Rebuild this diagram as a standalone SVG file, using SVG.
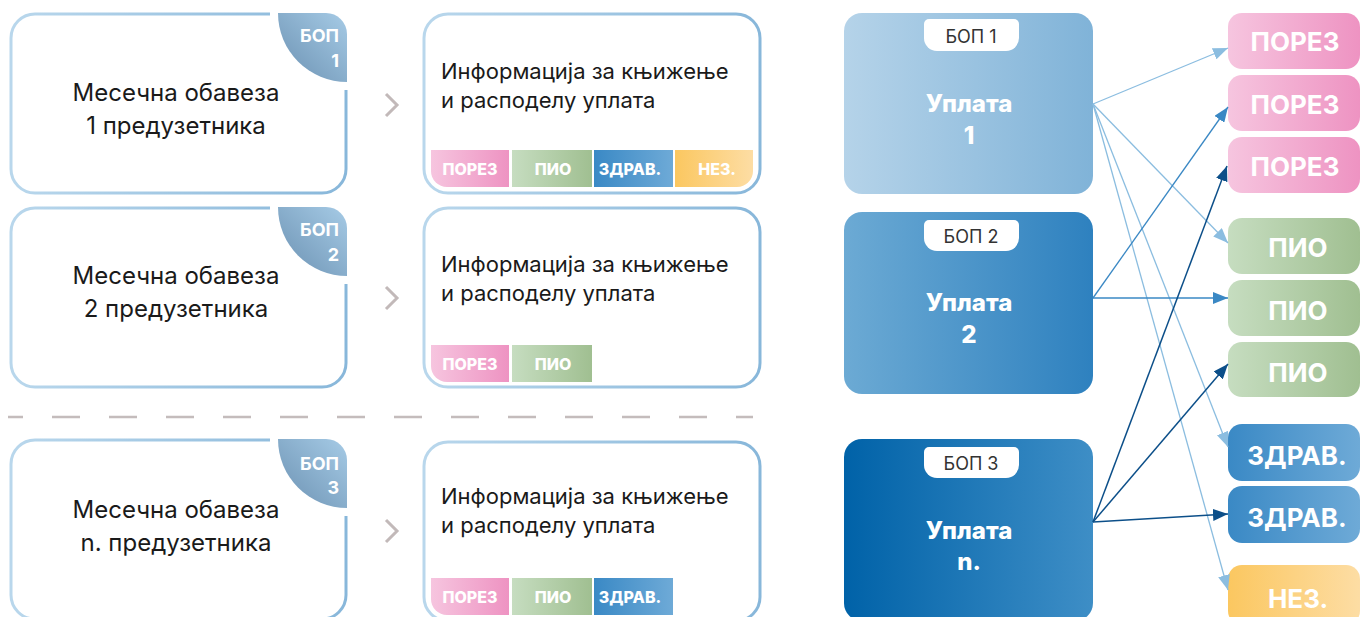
<svg xmlns="http://www.w3.org/2000/svg" width="1360" height="617" viewBox="0 0 1360 617">
<defs>
<linearGradient id="gStroke" x1="0" y1="0" x2="1" y2="0"><stop offset="0" stop-color="#b9d7ec"/><stop offset="1" stop-color="#88b7da"/></linearGradient>
<linearGradient id="gCorner" x1="0" y1="1" x2="1" y2="0"><stop offset="0" stop-color="#6a90b1"/><stop offset="1" stop-color="#a6cbe6"/></linearGradient>
<linearGradient id="gPorez" x1="0" y1="0" x2="1" y2="0"><stop offset="0" stop-color="#f6c5df"/><stop offset="1" stop-color="#ee93c2"/></linearGradient>
<linearGradient id="gPio" x1="0" y1="0" x2="1" y2="0"><stop offset="0" stop-color="#c6ddc0"/><stop offset="1" stop-color="#a0bf91"/></linearGradient>
<linearGradient id="gZdrav" x1="0" y1="0" x2="1" y2="0"><stop offset="0" stop-color="#3a89c5"/><stop offset="1" stop-color="#6eaad7"/></linearGradient>
<linearGradient id="gNez" x1="0" y1="0" x2="1" y2="0"><stop offset="0" stop-color="#fbc760"/><stop offset="1" stop-color="#fddda4"/></linearGradient>
<linearGradient id="gU1" x1="0" y1="0" x2="1" y2="0"><stop offset="0" stop-color="#b5d3e9"/><stop offset="1" stop-color="#80b3d8"/></linearGradient>
<linearGradient id="gU2" x1="0" y1="0" x2="1" y2="0"><stop offset="0" stop-color="#6caad4"/><stop offset="1" stop-color="#2e81bf"/></linearGradient>
<linearGradient id="gU3" x1="0" y1="0" x2="1" y2="0"><stop offset="0" stop-color="#0062a8"/><stop offset="1" stop-color="#3e8ec6"/></linearGradient>
<marker id="aL" markerUnits="userSpaceOnUse" markerWidth="15" markerHeight="12" refX="15" refY="6" orient="auto"><path d="M0,0 L15,6 L0,12 Z" fill="#8bbde0"/></marker>
<marker id="aM" markerUnits="userSpaceOnUse" markerWidth="15" markerHeight="12" refX="15" refY="6" orient="auto"><path d="M0,0 L15,6 L0,12 Z" fill="#3a88c4"/></marker>
<marker id="aD" markerUnits="userSpaceOnUse" markerWidth="15" markerHeight="12" refX="15" refY="6" orient="auto"><path d="M0,0 L15,6 L0,12 Z" fill="#0c4f89"/></marker>
<style>
.box{fill:#fff;stroke:url(#gStroke);stroke-width:3}
.outline{fill:none;stroke:url(#gStroke);stroke-width:3}
.corner{fill:url(#gCorner)}
.ctxt{font-family:Inter,"Noto Sans",sans-serif;font-weight:700;font-size:18px;fill:#fff;text-anchor:end}
.main{font-family:Inter,"Noto Sans",sans-serif;font-size:24px;fill:#1a1a1a;text-anchor:middle}
.info{font-family:Inter,"Noto Sans",sans-serif;font-size:22px;fill:#1a1a1a}
.tag{font-family:Inter,"Noto Sans",sans-serif;font-weight:800;font-size:16px;fill:#fff;text-anchor:middle}
.chev{fill:none;stroke:#c2b9b9;stroke-width:3}
.tab{fill:#fff}
.tabt{font-family:Inter,"Noto Sans",sans-serif;font-size:18px;fill:#333;text-anchor:middle}
.up{font-family:Inter,"Noto Sans",sans-serif;font-weight:800;font-size:24px;fill:#fff;text-anchor:middle}
.rt{font-family:Inter,"Noto Sans",sans-serif;font-weight:700;font-size:26px;fill:#fff;text-anchor:middle}
.cL{stroke:#8bbde0;stroke-width:1.3;fill:none;marker-end:url(#aL)}
.cM{stroke:#3a88c4;stroke-width:1.3;fill:none;marker-end:url(#aM)}
.cD{stroke:#0c4f89;stroke-width:1.5;fill:none;marker-end:url(#aD)}
</style>
</defs>
<rect width="1360" height="617" fill="#fff"/>

<!-- Left boxes -->
<g id="obaveza1">
<path class="outline" d="M270 14 H35 A24 24 0 0 0 11 38 V169 A24 24 0 0 0 35 193 H322 A24 24 0 0 0 346 169 V90"/>
<path class="corner" d="M278 13 H326 A21 21 0 0 1 347 34 V82 A69 69 0 0 1 278 13 Z"/>
<text class="ctxt" x="339" y="42">БОП</text>
<text class="ctxt" x="339" y="67">1</text>
<text class="main" x="176" y="101">Месечна обавеза</text>
<text class="main" x="176" y="134">1 предузетника</text>
</g>
<g id="obaveza2">
<path class="outline" d="M270 208 H35 A24 24 0 0 0 11 232 V363 A24 24 0 0 0 35 387 H322 A24 24 0 0 0 346 363 V284"/>
<path class="corner" d="M278 207 H326 A21 21 0 0 1 347 228 V276 A69 69 0 0 1 278 207 Z"/>
<text class="ctxt" x="339" y="236">БОП</text>
<text class="ctxt" x="339" y="261">2</text>
<text class="main" x="176" y="284">Месечна обавеза</text>
<text class="main" x="176" y="317">2 предузетника</text>
</g>
<g id="obaveza3">
<path class="outline" d="M270 440 H35 A24 24 0 0 0 11 464 V595 A24 24 0 0 0 35 619 H322 A24 24 0 0 0 346 595 V516"/>
<path class="corner" d="M278 439 H326 A21 21 0 0 1 347 460 V508 A69 69 0 0 1 278 439 Z"/>
<text class="ctxt" x="339" y="470">БОП</text>
<text class="ctxt" x="339" y="494">3</text>
<text class="main" x="176" y="518">Месечна обавеза</text>
<text class="main" x="176" y="551">n. предузетника</text>
</g>

<!-- dashed separator -->
<line x1="8" y1="417" x2="753" y2="417" stroke="#c4bcbc" stroke-width="2.5" stroke-dasharray="28 29" stroke-dashoffset="13"/>

<!-- chevrons -->
<g id="chevrons">
<polyline class="chev" points="386,94 397,105 386,116"/>
<polyline class="chev" points="386,287 397,298 386,309"/>
<polyline class="chev" points="386,520 397,531 386,542"/>
</g>

<!-- Info boxes -->
<g id="info1">
<rect class="box" x="424" y="14" width="336" height="179" rx="24"/>
<text class="info" x="441" y="79">Информација за књижење</text>
<text class="info" x="441" y="108">и расподелу уплата</text>
<path fill="url(#gPorez)" d="M431 150 H509 V187 H447 A16 16 0 0 1 431 171 Z"/>
<rect fill="url(#gPio)" x="512" y="150" width="80" height="37"/>
<rect fill="url(#gZdrav)" x="594" y="150" width="79" height="37"/>
<path fill="url(#gNez)" d="M675 150 H753 V171 A16 16 0 0 1 737 187 H675 Z"/>
<text class="tag" x="470" y="175">ПОРЕЗ</text>
<text class="tag" x="553" y="175">ПИО</text>
<text class="tag" x="630" y="175">ЗДРАВ.</text>
<text class="tag" x="717" y="175">НЕЗ.</text>
</g>
<g id="info2">
<rect class="box" x="424" y="208" width="336" height="179" rx="24"/>
<text class="info" x="441" y="272">Информација за књижење</text>
<text class="info" x="441" y="301">и расподелу уплата</text>
<path fill="url(#gPorez)" d="M431 345 H509 V382 H447 A16 16 0 0 1 431 366 Z"/>
<rect fill="url(#gPio)" x="512" y="345" width="80" height="37"/>
<text class="tag" x="470" y="370">ПОРЕЗ</text>
<text class="tag" x="553" y="370">ПИО</text>
</g>
<g id="info3">
<rect class="box" x="424" y="442" width="336" height="179" rx="24"/>
<text class="info" x="441" y="504">Информација за књижење</text>
<text class="info" x="441" y="533">и расподелу уплата</text>
<path fill="url(#gPorez)" d="M431 578 H509 V615 H447 A16 16 0 0 1 431 599 Z"/>
<rect fill="url(#gPio)" x="512" y="578" width="80" height="37"/>
<rect fill="url(#gZdrav)" x="594" y="578" width="79" height="37"/>
<text class="tag" x="470" y="603">ПОРЕЗ</text>
<text class="tag" x="553" y="603">ПИО</text>
<text class="tag" x="630" y="603">ЗДРАВ.</text>
</g>

<!-- Uplata boxes -->
<g id="uplata1">
<rect fill="url(#gU1)" x="844" y="13" width="249" height="181" rx="18"/>
<path class="tab" d="M924 24 A5 5 0 0 1 929 19 H1014 A5 5 0 0 1 1019 24 V38 A13 13 0 0 1 1006 51 H937 A13 13 0 0 1 924 38 Z"/>
<text class="tabt" x="971" y="43">БОП 1</text>
<text class="up" x="969" y="112">Уплата</text>
<text class="up" x="969" y="144">1</text>
</g>
<g id="uplata2">
<rect fill="url(#gU2)" x="844" y="212" width="249" height="182" rx="18"/>
<path class="tab" d="M924 225 A5 5 0 0 1 929 220 H1014 A5 5 0 0 1 1019 225 V238 A13 13 0 0 1 1006 251 H937 A13 13 0 0 1 924 238 Z"/>
<text class="tabt" x="971" y="243">БОП 2</text>
<text class="up" x="969" y="311">Уплата</text>
<text class="up" x="969" y="343">2</text>
</g>
<g id="uplata3">
<rect fill="url(#gU3)" x="844" y="439" width="249" height="182" rx="18"/>
<path class="tab" d="M924 452 A5 5 0 0 1 929 447 H1014 A5 5 0 0 1 1019 452 V465 A13 13 0 0 1 1006 478 H937 A13 13 0 0 1 924 465 Z"/>
<text class="tabt" x="971" y="470">БОП 3</text>
<text class="up" x="969" y="539">Уплата</text>
<text class="up" x="969" y="570">n.</text>
</g>

<!-- Right tags -->
<g id="porez1"><rect fill="url(#gPorez)" x="1228" y="13" width="132" height="56" rx="14"/><text class="rt" x="1295" y="51">ПОРЕЗ</text></g>
<g id="porez2"><rect fill="url(#gPorez)" x="1228" y="75" width="132" height="56" rx="14"/><text class="rt" x="1295" y="114">ПОРЕЗ</text></g>
<g id="porez3"><rect fill="url(#gPorez)" x="1228" y="137" width="132" height="56" rx="14"/><text class="rt" x="1295" y="176">ПОРЕЗ</text></g>
<g id="pio1"><rect fill="url(#gPio)" x="1228" y="218" width="132" height="56" rx="14"/><text class="rt" x="1298" y="257">ПИО</text></g>
<g id="pio2"><rect fill="url(#gPio)" x="1228" y="280" width="132" height="56" rx="14"/><text class="rt" x="1298" y="320">ПИО</text></g>
<g id="pio3"><rect fill="url(#gPio)" x="1228" y="342" width="132" height="55" rx="14"/><text class="rt" x="1298" y="382">ПИО</text></g>
<g id="zdrav1"><rect fill="url(#gZdrav)" x="1228" y="424" width="132" height="57" rx="14"/><text class="rt" x="1297" y="465">ЗДРАВ.</text></g>
<g id="zdrav2"><rect fill="url(#gZdrav)" x="1228" y="486" width="132" height="57" rx="14"/><text class="rt" x="1297" y="527">ЗДРАВ.</text></g>
<g id="nez"><rect fill="url(#gNez)" x="1228" y="565" width="132" height="60" rx="14"/><text class="rt" x="1298" y="608">НЕЗ.</text></g>

<!-- Connectors -->
<g id="connectors">
<line class="cL" x1="1093" y1="104" x2="1228" y2="48"/>
<line class="cL" x1="1093" y1="104" x2="1228" y2="243"/>
<line class="cL" x1="1093" y1="104" x2="1228" y2="447"/>
<line class="cL" x1="1093" y1="104" x2="1228" y2="590"/>
<line class="cM" x1="1093" y1="298" x2="1228" y2="107"/>
<line class="cM" x1="1093" y1="298" x2="1228" y2="298"/>
<line class="cD" x1="1093" y1="522" x2="1227" y2="166"/>
<line class="cD" x1="1093" y1="522" x2="1228" y2="364"/>
<line class="cD" x1="1093" y1="522" x2="1228" y2="514"/>
</g>
</svg>
